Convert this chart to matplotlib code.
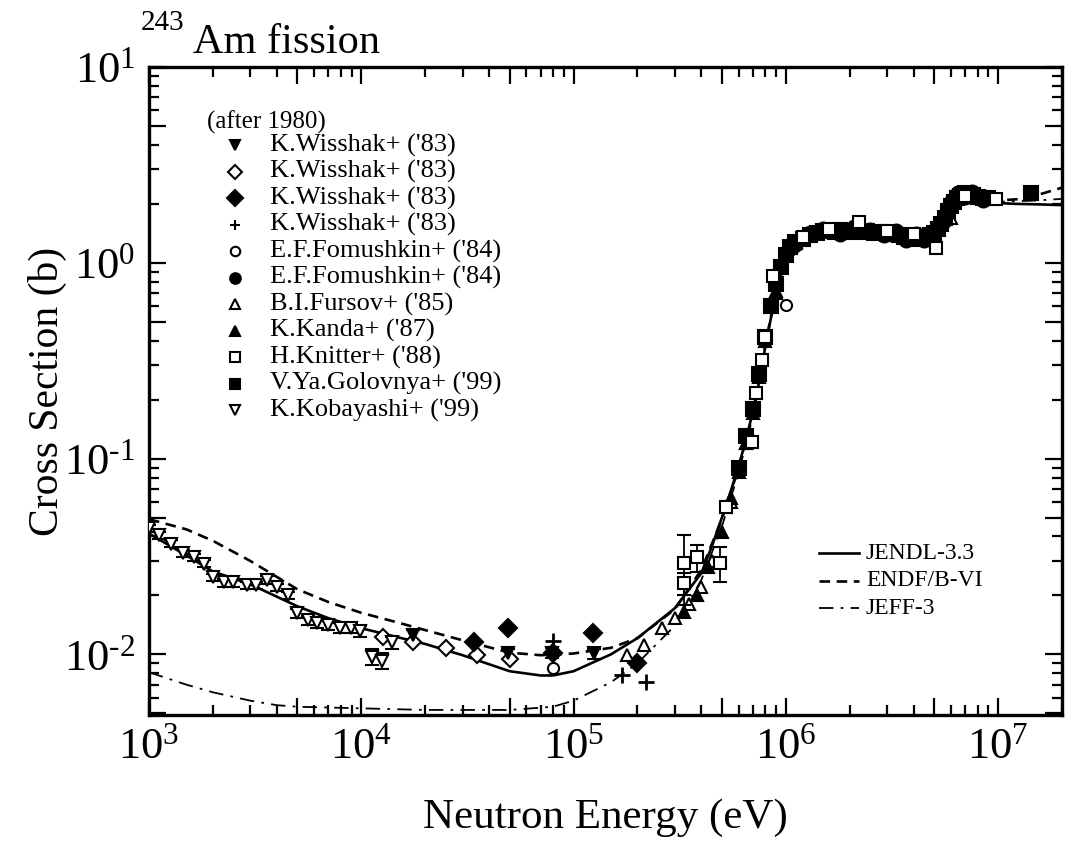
import matplotlib
matplotlib.use("Agg")
import matplotlib.pyplot as plt
import matplotlib.ticker as ticker
import numpy as np

plt.rcParams["font.family"] = ["Liberation Serif", "DejaVu Serif"]
plt.rcParams["mathtext.fontset"] = "custom"
plt.rcParams["mathtext.rm"] = "Liberation Serif"
plt.rcParams["mathtext.it"] = "Liberation Serif:italic"
plt.rcParams["axes.unicode_minus"] = False

# evaluated data (neutron energy in eV, cross section in b)
jendl_e = [1e3, 1.5e3, 2e3, 3e3, 5e3, 7e3, 1e4, 1.5e4, 2e4, 3e4, 5e4, 7e4, 8e4, 1e5,
           1.5e5, 2e5, 3e5, 4e5, 4.5e5, 5e5, 5.5e5, 6e5, 6.5e5, 7e5, 7.5e5, 8e5, 8.5e5,
           9e5, 9.5e5, 1e6, 1.1e6, 1.2e6, 1.4e6, 2e6, 3e6, 4e6, 5e6, 5.5e6, 6e6, 6.5e6,
           7e6, 8e6, 9e6, 1e7, 1.2e7, 1.5e7, 2e7]
jendl_xs = [0.0414, 0.032, 0.0265, 0.0228, 0.0176, 0.0153, 0.0136, 0.0122, 0.0113, 0.0099,
            0.0082, 0.0078, 0.0078, 0.0082, 0.0100, 0.0121, 0.0172, 0.026, 0.036, 0.050,
            0.068, 0.092, 0.125, 0.175, 0.25, 0.37, 0.52, 0.70, 0.88, 1.03, 1.22, 1.32,
            1.40, 1.42, 1.38, 1.33, 1.40, 1.60, 1.85, 2.05, 2.15, 2.12, 2.05, 2.02, 2.00,
            1.99, 1.97]

endf_e = [1e3, 1.5e3, 2e3, 3e3, 5e3, 7e3, 1e4, 1.5e4, 2e4, 3e4, 5e4, 7e4, 1e5, 1.5e5,
          2e5, 3e5, 4e5, 5e5, 6e5, 7e5, 7.5e5, 8e5, 9e5, 1e6, 1.2e6, 1.5e6, 2e6, 3e6,
          4e6, 5e6, 6e6, 7e6, 8e6, 1e7, 1.3e7, 1.6e7, 2e7]
endf_xs = [0.049, 0.0435, 0.038, 0.030, 0.0215, 0.0185, 0.0163, 0.0145, 0.0133, 0.0118,
           0.0102, 0.0099, 0.0101, 0.0108, 0.0121, 0.0170, 0.027, 0.049, 0.090, 0.170,
           0.25, 0.38, 0.72, 1.05, 1.33, 1.45, 1.45, 1.40, 1.36, 1.43, 1.85, 2.15, 2.15,
           2.08, 2.12, 2.25, 2.42]

jeff_e = [1e3, 1.5e3, 2e3, 3e3, 4e3, 5e3, 1e4, 2e4, 5e4, 8e4, 1e5, 1.5e5, 2e5, 3e5,
          4e5, 5e5, 6e5, 7e5, 8e5, 9e5, 1e6, 1.5e6, 2e6, 3e6, 4e6, 5e6, 6e6, 7e6, 8e6,
          1e7, 1.5e7, 2e7]
jeff_xs = [0.0081, 0.0070, 0.0064, 0.0058, 0.0055, 0.0054, 0.0053, 0.0052, 0.0052,
           0.0054, 0.0058, 0.0072, 0.0090, 0.0140, 0.024, 0.045, 0.085, 0.165, 0.37,
           0.70, 1.02, 1.42, 1.44, 1.40, 1.36, 1.43, 1.78, 2.08, 2.12, 2.05, 2.08, 2.12]

# experimental data
wis1_e = [1.75e4, 4.9e4, 7.9e4, 1.25e5]
wis1_xs = [0.0125, 0.0101, 0.0102, 0.0101]
wis1_err = [0.0008, 0.0006, 0.0006, 0.0006]

wis2_e = [1.27e4, 1.75e4, 2.5e4, 3.5e4, 5.0e4]
wis2_xs = [0.0122, 0.0115, 0.0108, 0.0099, 0.0095]

wis3_e = [3.4e4, 4.9e4, 8.0e4, 1.23e5, 2.0e5]
wis3_xs = [0.0115, 0.0137, 0.0101, 0.0128, 0.0090]

wis4_e = [8.0e4, 1.7e5, 2.2e5]
wis4_xs = [0.0117, 0.0078, 0.0072]

fom1_e = [8.0e4, 1.0e6]
fom1_xs = [0.0085, 0.61]

fom2_e = [1.1e6, 1.3e6, 1.5e6, 1.8e6, 2.1e6, 2.5e6, 2.9e6, 3.3e6, 3.7e6, 4.1e6, 4.5e6,
          5.0e6, 5.5e6, 6.0e6, 6.5e6, 7.0e6, 7.5e6, 8.5e6]
fom2_xs = [1.25, 1.42, 1.49, 1.40, 1.52, 1.47, 1.38, 1.46, 1.30, 1.40, 1.30, 1.40, 1.62,
           2.05, 2.28, 2.18, 2.30, 2.10]

fur_e = [1.78e5, 2.15e5, 2.6e5, 3.0e5, 3.5e5, 4.0e5, 4.5e5, 5.5e5, 6.5e5, 7.5e5, 9e5,
         1.2e6, 2e6, 3e6, 4e6, 6e6, 8e6]
fur_xs = [0.0099, 0.0111, 0.0137, 0.0154, 0.018, 0.022, 0.030, 0.060, 0.12, 0.26, 0.70,
          1.30, 1.45, 1.42, 1.40, 1.70, 2.15]

kan_e = [3.3e5, 3.8e5, 4.3e5, 5e5, 5.5e5, 6e5, 6.5e5, 7e5, 7.5e5, 8e5, 9e5]
kan_xs = [0.0165, 0.020, 0.028, 0.042, 0.063, 0.085, 0.12, 0.17, 0.27, 0.40, 0.72]

kni_e = [3.3e5, 3.3e5, 3.8e5, 4.9e5, 5.2e5, 6.9e5, 7.2e5, 7.7e5, 8e5, 8.7e5, 1.2e6,
         1.6e6, 2.2e6, 3e6, 4e6, 5.1e6, 7e6, 9.8e6]
kni_xs = [0.0294, 0.0231, 0.0313, 0.0294, 0.0565, 0.121, 0.216, 0.32, 0.42, 0.86, 1.35,
          1.48, 1.62, 1.45, 1.40, 1.19, 2.20, 2.12]
kni_err = [0.0115, 0.0030, 0.0050, 0.0060, 0.0040, 0.008, 0.012, 0.02, 0.02, 0.04, 0.06,
           0.06, 0.06, 0.06, 0.06, 0.05, 0.08, 0.08]

gol_e = [6.0e5, 6.5e5, 7.0e5, 7.5e5, 8.0e5, 8.5e5, 9.0e5, 9.5e5, 1.0e6, 1.05e6, 1.1e6,
         1.2e6, 1.3e6, 1.4e6, 1.5e6, 1.6e6, 1.7e6, 1.8e6, 1.9e6, 2.0e6, 2.2e6, 2.4e6,
         2.6e6, 2.8e6, 3.0e6, 3.2e6, 3.4e6, 3.6e6, 3.8e6, 4.0e6, 4.2e6, 4.4e6, 4.6e6,
         4.8e6, 5.0e6, 5.2e6, 5.4e6, 5.6e6, 5.8e6, 6.0e6, 6.2e6, 6.4e6, 6.6e6, 6.8e6,
         7.0e6, 7.3e6, 7.6e6, 8.0e6, 8.5e6, 9.0e6, 1.43e7]
gol_xs = [0.090, 0.13, 0.18, 0.27, 0.42, 0.60, 0.78, 0.95, 1.10, 1.20, 1.27, 1.33, 1.38,
          1.42, 1.45, 1.46, 1.44, 1.47, 1.44, 1.46, 1.43, 1.46, 1.42, 1.44, 1.41, 1.40,
          1.38, 1.36, 1.34, 1.35, 1.33, 1.36, 1.35, 1.38, 1.42, 1.48, 1.58, 1.70, 1.84,
          1.95, 2.05, 2.14, 2.20, 2.24, 2.26, 2.24, 2.21, 2.18, 2.15, 2.14, 2.27]

kob_e = [1.0e3, 1.11e3, 1.27e3, 1.44e3, 1.63e3, 1.81e3, 2.0e3, 2.25e3, 2.5e3, 2.9e3,
         3.2e3, 3.6e3, 4.0e3, 4.5e3, 5.0e3, 5.6e3, 6.2e3, 7.0e3, 7.9e3, 8.9e3, 9.9e3,
         1.12e4, 1.25e4, 1.4e4]
kob_xs = [0.044, 0.0405, 0.0368, 0.0328, 0.0313, 0.0291, 0.0247, 0.0233, 0.0233, 0.0225,
          0.0225, 0.0239, 0.0220, 0.0200, 0.0162, 0.0149, 0.0144, 0.0141, 0.0137, 0.0137,
          0.0131, 0.0097, 0.0093, 0.0115]
kob_err = [0.002, 0.0018, 0.0016, 0.0014, 0.0014, 0.0013, 0.0011, 0.0011, 0.0011, 0.0010,
           0.0010, 0.0011, 0.0010, 0.0009, 0.0008, 0.0008, 0.0008, 0.0008, 0.0008, 0.0008,
           0.0009, 0.0009, 0.0009, 0.0008]

exp_labels = ["K.Wisshak+ ('83)", "K.Wisshak+ ('83)", "K.Wisshak+ ('83)", "K.Wisshak+ ('83)",
              "E.F.Fomushkin+ ('84)", "E.F.Fomushkin+ ('84)", "B.I.Fursov+ ('85)",
              "K.Kanda+ ('87)", "H.Knitter+ ('88)", "V.Ya.Golovnya+ ('99)",
              "K.Kobayashi+ ('99)"]
eval_labels = ["JENDL-3.3", "ENDF/B-VI", "JEFF-3"]

# marker, face colour, size
styles = [("v", "k", 9), ("D", "white", 8), ("D", "k", 9), ("+", "k", 11),
          ("o", "white", 8), ("o", "k", 10), ("^", "white", 9), ("^", "k", 9),
          ("s", "white", 8), ("s", "k", 10), ("v", "white", 9)]

fig = plt.figure(figsize=(10.65, 8.46), dpi=100)
ax = fig.add_axes([149 / 1065, 131 / 846, 913 / 1065, 648 / 846])
ax.set_xscale("log")
ax.set_yscale("log")

lw = 1.9
ax.plot(jendl_e, jendl_xs, color="k", lw=lw, zorder=2)
ax.plot(endf_e, endf_xs, color="k", lw=lw, ls=(0, (4, 2.5)), zorder=2)
ax.plot(jeff_e, jeff_xs, color="k", lw=1.3, ls=(0, (8, 4, 1.5, 4)), zorder=2)

series = [(wis1_e, wis1_xs, wis1_err), (wis2_e, wis2_xs, None), (wis3_e, wis3_xs, None),
          (wis4_e, wis4_xs, None), (fom1_e, fom1_xs, None), (fom2_e, fom2_xs, None),
          (fur_e, fur_xs, None), (kan_e, kan_xs, None), (kni_e, kni_xs, kni_err),
          (gol_e, gol_xs, None), (kob_e, kob_xs, kob_err)]

for (e, xs, err), (mk, fc, ms) in zip(series, styles):
    mew = 2.0 if mk == "+" else 1.5
    if err is not None:
        ax.errorbar(e, xs, yerr=err, fmt=mk, mfc=fc, mec="k", ms=ms, mew=mew,
                    ecolor="k", elinewidth=1.3, capsize=5, capthick=1.3, zorder=3)
    else:
        ax.plot(e, xs, ls="none", marker=mk, mfc=fc, mec="k", ms=ms, mew=mew, zorder=3)

ax.set_xlim(1e3, 2e7)
ax.set_ylim(4.9e-3, 10)


def pow_fmt(v, pos):
    p = np.log10(v)
    if abs(p - round(p)) < 1e-6:
        p = int(round(p))
        if p < 0:
            return r"$10^{\text{-}%d}$" % (-p)
        return r"$10^{%d}$" % p
    return ""


for axis in (ax.xaxis, ax.yaxis):
    axis.set_major_locator(ticker.LogLocator(base=10, subs=(1.0, 5.0)))
    axis.set_minor_locator(ticker.LogLocator(base=10, subs=(2, 3, 4, 6, 7, 8, 9)))
    axis.set_major_formatter(ticker.FuncFormatter(pow_fmt))
    axis.set_minor_formatter(ticker.NullFormatter())

ax.tick_params(which="both", direction="in", top=True, right=True, width=1.6,
               labelsize=32)
ax.tick_params(which="major", length=12)
ax.tick_params(which="minor", length=7)
ax.tick_params(axis="x", pad=9)
ax.tick_params(axis="y", pad=10)
for sp in ax.spines.values():
    sp.set_linewidth(2.4)

ax.set_xlabel("Neutron Energy (eV)", fontsize=31, labelpad=22)
ax.set_ylabel("Cross Section (b)", fontsize=30, labelpad=-2)

fig.text(141 / 1065, 1 - 30 / 846, "243", fontsize=21, va="baseline")
fig.text(193 / 1065, 1 - 53 / 846, "Am fission", fontsize=30.5, va="baseline")

# legend of experimental data
def ax_y(py):
    return (715 - py) / 648


ax.text(58 / 913, ax_y(122), "(after 1980)", transform=ax.transAxes, fontsize=18,
        va="center", ha="left")
for i, ((mk, fc, ms), lab) in enumerate(zip(styles, exp_labels)):
    y = ax_y(145 + 26.5 * i)
    ax.plot([86 / 913], [y], transform=ax.transAxes, marker=mk, mfc=fc, mec="k",
            ms=min(ms, 9) * 0.85, mew=1.5, ls="none", clip_on=False)
    ax.text(121 / 913, y, lab, transform=ax.transAxes, fontsize=19, va="center",
            ha="left")

# legend of evaluations
eval_styles = [dict(ls="-", lw=lw), dict(ls=(0, (4, 2.5)), lw=lw),
               dict(ls=(0, (8, 4, 1.5, 4)), lw=1.3)]
for i, (st, lab) in enumerate(zip(eval_styles, eval_labels)):
    y = ax_y(553 + 27.5 * i)
    ax.plot([670 / 913, 710 / 913], [y, y], transform=ax.transAxes, color="k", **st)
    ax.text(717 / 913, y, lab, transform=ax.transAxes, fontsize=17, va="center",
            ha="left")

fig.savefig("out.png", dpi=100)
